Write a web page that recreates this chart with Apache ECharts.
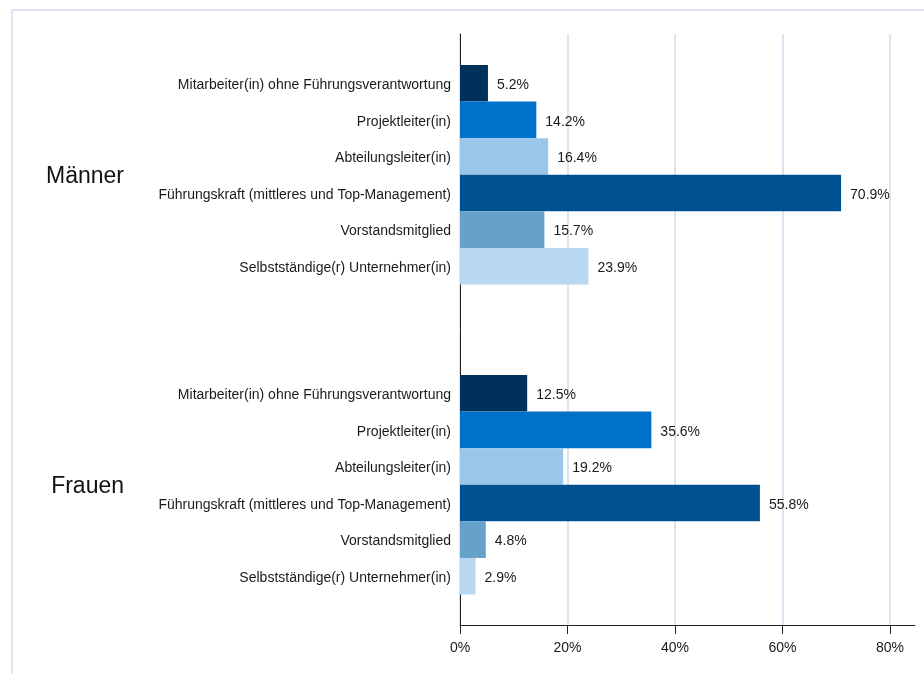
<!DOCTYPE html>
<html lang="de">
<head>
    <meta charset="UTF-8"/>
    <title>Positionen</title>
    <style>
        * {
            padding: 0;
            margin: 0;
        }

        body {
            background-color: white;
        }

        #chart {
            width: 924px;
            height: 674px;
        }
    </style>
    <script src="https://cdn.jsdelivr.net/npm/echarts@6/dist/echarts.min.js"></script>
</head>
<body>
<div id="chart"></div>
</body>
<script>
    const categories = [
        'Mitarbeiter(in) ohne Führungsverantwortung',
        'Projektleiter(in)',
        'Abteilungsleiter(in)',
        'Führungskraft (mittleres und Top-Management)',
        'Vorstandsmitglied',
        'Selbstständige(r) Unternehmer(in)'
    ]
    const groups = ['Männer', 'Frauen']
    const maennerValues = [5.2, 14.2, 16.4, 70.9, 15.7, 23.9]
    const frauenValues = [12.5, 35.6, 19.2, 55.8, 4.8, 2.9]
    const barColors = ['#00315a', '#0071c9', '#9ac6ea', '#005192', '#66a1c9', '#b9d7f0']
    const axisMax = 80
    const axisStep = 20

    // layout (px)
    const plotLeft = 460
    const plotWidth = 430
    const axisTop = 34
    const axisBottom = 49
    const groupTops = [65, 375]
    const groupHeight = 219.5

    const chart = echarts.init(document.getElementById('chart'))

    const font = 'Liberation Sans, Arial, sans-serif'
    const textColor = '#1a1a1a'

    const groupData = [maennerValues, frauenValues]

    const grids = [
        // frame axis lines (x line runs a little past 80%)
        {left: plotLeft, right: 9, top: axisTop, bottom: axisBottom},
        // scale: ticks, labels, grid lines
        {left: plotLeft, width: plotWidth, top: axisTop, bottom: axisBottom},
    ]
    groupTops.forEach(t => grids.push({left: plotLeft, width: plotWidth, top: t, height: groupHeight}))

    const xAxis = [
        {
            gridIndex: 0, type: 'value', min: 0, max: 1,
            axisLine: {show: true, lineStyle: {color: '#222', width: 1}},
            axisTick: {show: false}, axisLabel: {show: false}, splitLine: {show: false}
        },
        {
            gridIndex: 1, type: 'value', min: 0, max: axisMax, interval: axisStep,
            axisLine: {show: false},
            axisTick: {show: true, length: 9, lineStyle: {color: '#222'}},
            axisLabel: {
                formatter: '{value}%', color: textColor, fontSize: 14, fontFamily: font, margin: 16
            },
            splitLine: {show: true, lineStyle: {color: '#dfe2f0', width: 2}}
        }
    ]
    const yAxis = [
        {
            gridIndex: 0, type: 'value', min: 0, max: 1,
            axisLine: {show: true, lineStyle: {color: '#222', width: 1}},
            axisTick: {show: false}, axisLabel: {show: false}, splitLine: {show: false}
        },
        {gridIndex: 1, type: 'value', show: false}
    ]
    const series = []

    groupData.forEach((values, i) => {
        const g = i + 2
        xAxis.push({gridIndex: g, type: 'value', min: 0, max: axisMax, show: false})
        yAxis.push({
            gridIndex: g, type: 'category', inverse: true, data: categories,
            axisLine: {show: false}, axisTick: {show: false},
            axisLabel: {
                margin: 9, align: 'right',
                formatter: '{c|{value}}',
                rich: {
                    c: {color: textColor, fontSize: 14, fontFamily: font, padding: [4, 0, 0, 0]}
                }
            }
        })
        series.push({
            type: 'bar',
            name: groups[i],
            xAxisIndex: g,
            yAxisIndex: g,
            barWidth: '100%',
            data: values.map((v, k) => ({value: v, itemStyle: {color: barColors[k]}})),
            label: {
                show: true, position: 'right', distance: 9, offset: [0, 2],
                formatter: p => p.value.toFixed(1) + '%',
                color: textColor, fontSize: 14, fontFamily: font
            },
            silent: true
        })
    })

    const graphic = [
        {
            type: 'rect', z: -10,
            shape: {x: 12, y: 10, width: 1000, height: 1000},
            style: {fill: 'none', stroke: '#e0e4f2', lineWidth: 2}
        }
    ]
    groups.forEach((name, i) => {
        graphic.push({
            type: 'text',
            x: 124,
            y: groupTops[i] + groupHeight / 2 + 2,
            style: {
                text: name, fill: '#111', font: '23px ' + font,
                textAlign: 'right', textVerticalAlign: 'middle'
            }
        })
    })

    chart.setOption({
        animation: false,
        grid: grids,
        xAxis: xAxis,
        yAxis: yAxis,
        series: series,
        graphic: graphic
    })
</script>
</html>
